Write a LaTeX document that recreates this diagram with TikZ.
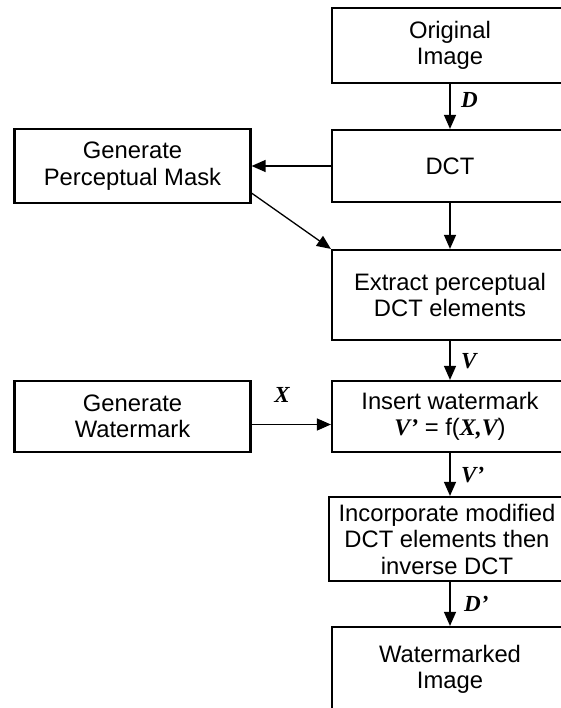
\documentclass[tikz,border=0pt]{standalone}
\usepackage{fontspec}
\setmainfont{Liberation Sans}
\newfontfamily\serifl{Liberation Serif}
\usetikzlibrary{arrows.meta,calc}
\newcommand{\lbl}[1]{{\serifl\bfseries\itshape #1}}
\tikzset{
  block/.style={draw, line width=2.2pt, minimum width=236pt, align=center,
    inner sep=0pt, font=\fontsize{23.8}{26.5}\selectfont},
  arr/.style={line width=1.3pt, -{Triangle[length=14pt,width=12pt]}},
  lab/.style={font=\fontsize{23}{26}\selectfont, inner sep=0pt}
}
\begin{document}
\begin{tikzpicture}[x=1pt,y=-1pt]
\useasboundingbox (0,0) rectangle (560,708);
% right-hand processing chain
\node[block, minimum height=75pt] (orig) at (450,45.5) {Original\\Image};
\node[block, minimum height=72pt] (dct) at (450,166) {DCT};
\node[block, minimum height=90pt] (ext) at (450,295) {Extract perceptual\\DCT elements};
\node[block, minimum height=71pt] (ins) at (450,416.5) {Insert watermark\\\lbl{V’} = f(\lbl{X,V})};
\node[block, minimum height=84pt] (inc) at (447,539) {Incorporate modified\\DCT elements then\\inverse DCT};
\node[block, minimum height=85pt] (out) at (450,669.5) {Watermarked\\Image};
% left-hand generators
\node[block, minimum height=74pt] (mask) at (132.5,166) {Generate\\Perceptual Mask};
\node[block, minimum height=71pt] (gen) at (132.5,416.5) {Generate\\Watermark};
% connectors
\draw[arr] (orig.south) -- (dct.north);
\draw[arr] (dct.south) -- (ext.north);
\draw[arr] (ext.south) -- (ins.north);
\draw[arr] (ins.south) -- (ins.south |- inc.north);
\draw[arr] (inc.south -| out.north) -- (out.north);
\draw[arr] (dct.west) -- (mask.east);
\coordinate (maskout) at ($(mask.south east)+(0,-11)$);
\draw[arr] (maskout) -- (ext.north west);
\coordinate (genout) at ($(gen.east)+(0,8)$);
\draw[arr] (genout) -- (genout -| ins.west);
% signal labels
\node[lab, anchor=west] (dl) at (461,100) {\lbl{D}};
\node[lab, anchor=west] (vl) at (461,361) {\lbl{V}};
\node[lab, anchor=west] (vpl) at (461,475) {\lbl{V’}};
\node[lab, anchor=west] (dpl) at (464,604) {\lbl{D’}};
\node[lab] (xl) at (282,395) {\lbl{X}};
\end{tikzpicture}
\end{document}
